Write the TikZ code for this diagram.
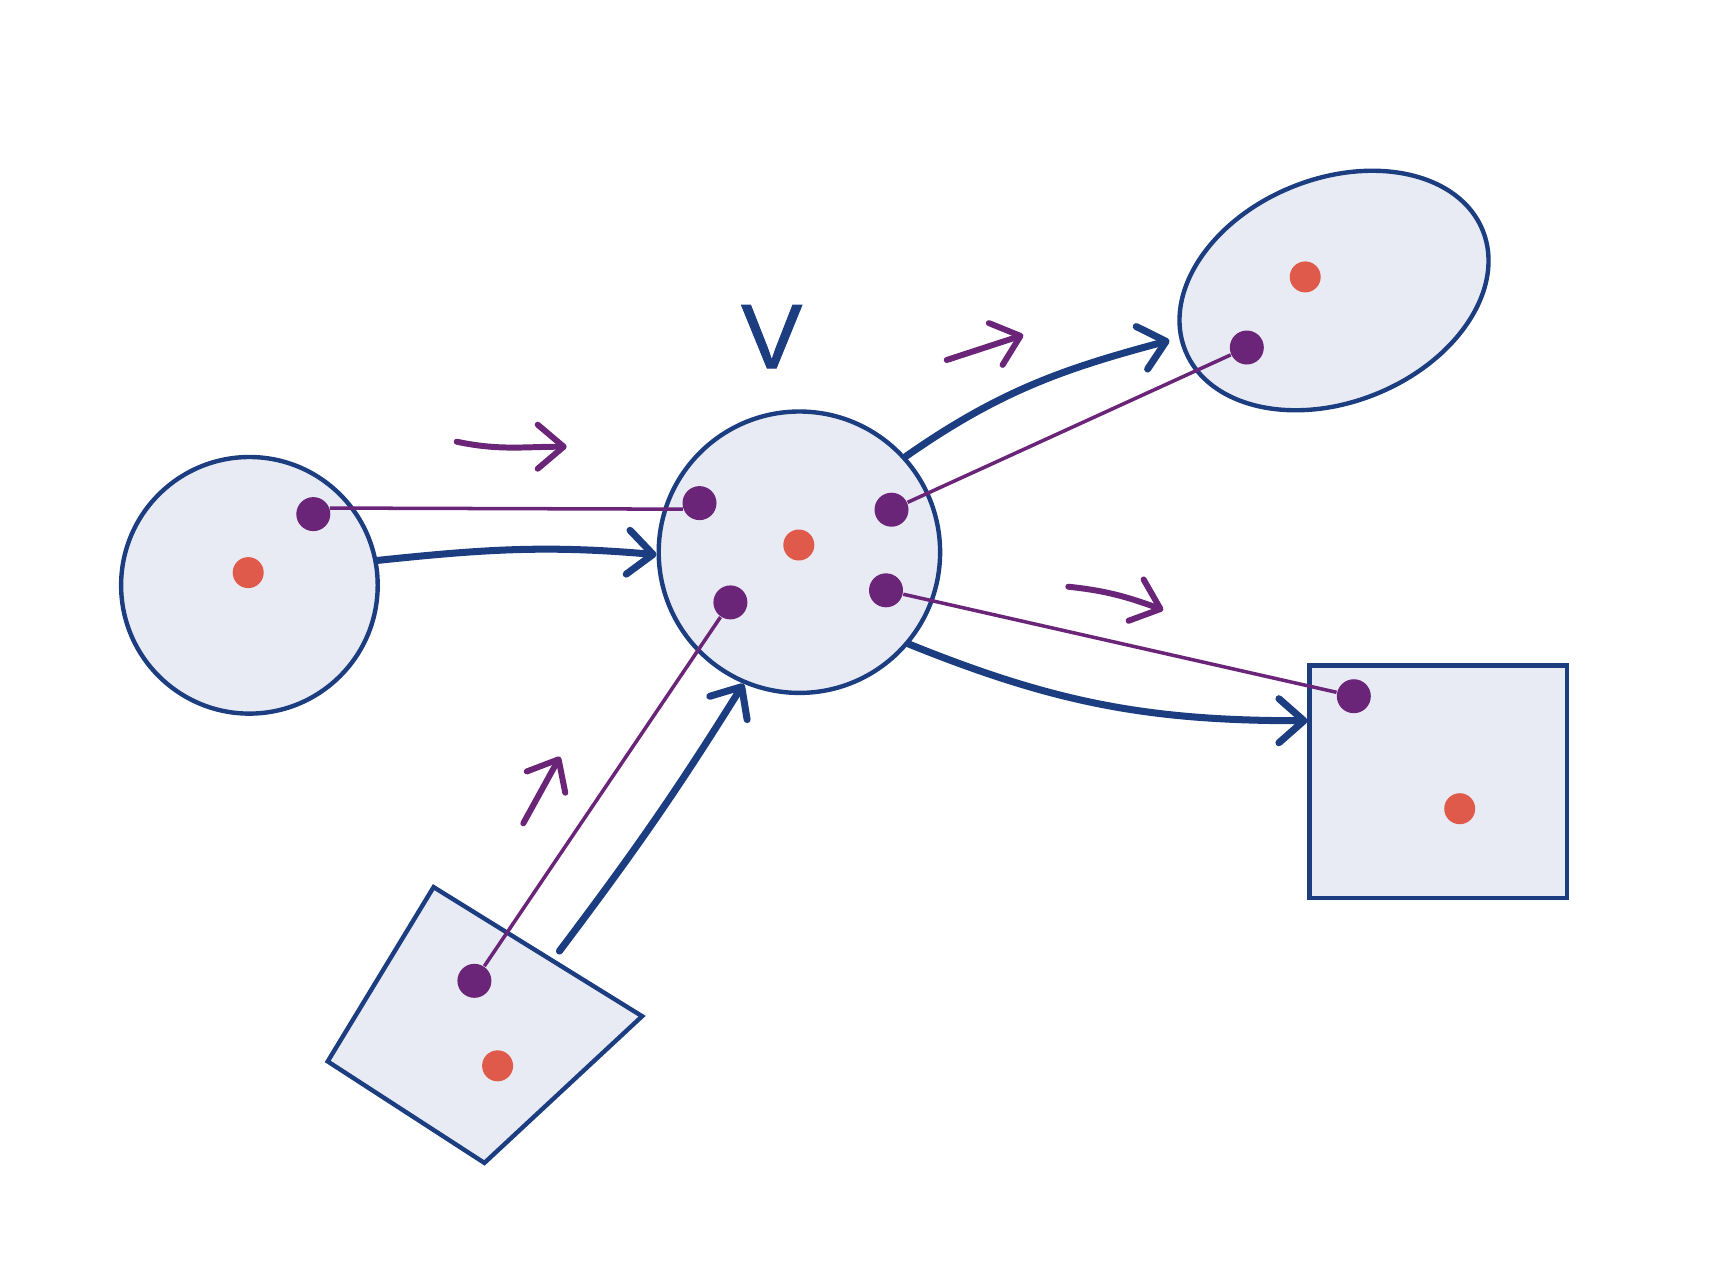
\documentclass[tikz,border=0pt]{standalone}
\usepackage{fontspec}
\newfontfamily\handfont[FakeBold=1.2]{Liberation Sans}
\usetikzlibrary{shapes.geometric, arrows.meta}
\definecolor{inkBlue}{HTML}{1C3D80}
\definecolor{inkPurple}{HTML}{6A2478}
\definecolor{inkRed}{HTML}{E05A4B}
\definecolor{paneFill}{HTML}{E8EBF3}

\begin{document}
\begin{tikzpicture}[
    blob/.style={draw=inkBlue, line width=1.25pt, fill=paneFill, inner sep=0pt},
    pDot/.style={circle, fill=inkPurple, inner sep=0pt, minimum size=3.4mm},
    rDot/.style={circle, fill=inkRed, inner sep=0pt, minimum size=3.1mm},
    link/.style={draw=inkPurple, line width=1pt},
    flow/.style={draw=inkBlue, line width=2pt, line cap=round, -{Straight Barb[length=2.5mm, width=4.4mm, round]}},
    hint/.style={draw=inkPurple, line width=1.7pt, line cap=round, -{Straight Barb[length=2.6mm, width=4.4mm, round]}},
]
\useasboundingbox (0,0) rectangle (17.30,-12.64);
\node[blob, circle, minimum size=2.566cm] (lc) at (2.494,-5.853) {};
\node[blob, circle, minimum size=2.814cm] (vc) at (7.994,-5.522) {};
\node[blob, ellipse, minimum width=3.208cm, minimum height=2.234cm, rotate=22] (el) at (13.34,-2.905) {};
\node[blob, rectangle, minimum width=2.571cm, minimum height=2.328cm] (sq) at (14.382,-7.817) {};
\coordinate (qa) at (4.336,-8.871);
\coordinate (qb) at (6.421,-10.162);
\coordinate (qc) at (4.844,-11.629);
\coordinate (qd) at (3.277,-10.614);
\draw[blob] (qa) -- (qb) -- (qc) -- (qd) -- cycle;
\node[text=inkBlue, font=\handfont\fontsize{26}{30}\selectfont] (vlabel) at (7.717,-3.367) {V};

\node[pDot] (lcP) at (3.133,-5.141) {};
\node[rDot] (lcR) at (2.482,-5.726) {};
\node[pDot] (vcA) at (6.995,-5.031) {};
\node[pDot] (vcB) at (8.915,-5.097) {};
\node[pDot] (vcC) at (7.304,-6.024) {};
\node[pDot] (vcD) at (8.860,-5.903) {};
\node[rDot] (vcR) at (7.988,-5.450) {};
\node[rDot] (elR) at (13.052,-2.769) {};
\node[pDot] (elP) at (12.468,-3.475) {};
\node[pDot] (sqP) at (13.538,-6.962) {};
\node[rDot] (sqR) at (14.597,-8.087) {};
\node[pDot] (qP) at (4.744,-9.808) {};
\node[rDot] (qR) at (4.976,-10.658) {};

\draw[link] (lcP.20) -- (vcA.200);
\draw[link] (vcB) -- (elP);
\draw[link] (vcD) -- (sqP);
\draw[link] (qP) -- (vcC);

\coordinate (qOut) at (5.594,-9.511);
\draw[flow] (lc.11) to[out=6, in=175] (vc.181);
\draw[flow, shorten >=1mm] (vc.42) to[out=35, in=195] (el.175);
\draw[flow] (vc.320) to[out=-22, in=180] (sq.155);
\draw[flow] (qOut) to[out=53, in=238] (vc.247);

\coordinate (hintA1) at (4.567,-4.417);
\coordinate (hintA2) at (5.667,-4.467);
\coordinate (hintB1) at (9.467,-3.600);
\coordinate (hintB2) at (10.233,-3.350);
\coordinate (hintC1) at (10.683,-5.867);
\coordinate (hintC2) at (11.633,-6.100);
\coordinate (hintD1) at (5.233,-8.233);
\coordinate (hintD2) at (5.600,-7.567);
\draw[hint] (hintA1) to[out=-12, in=180] (hintA2);
\draw[hint] (hintB1) -- (hintB2);
\draw[hint] (hintC1) to[out=-6, in=160] (hintC2);
\draw[hint] (hintD1) -- (hintD2);
\end{tikzpicture}
\end{document}
